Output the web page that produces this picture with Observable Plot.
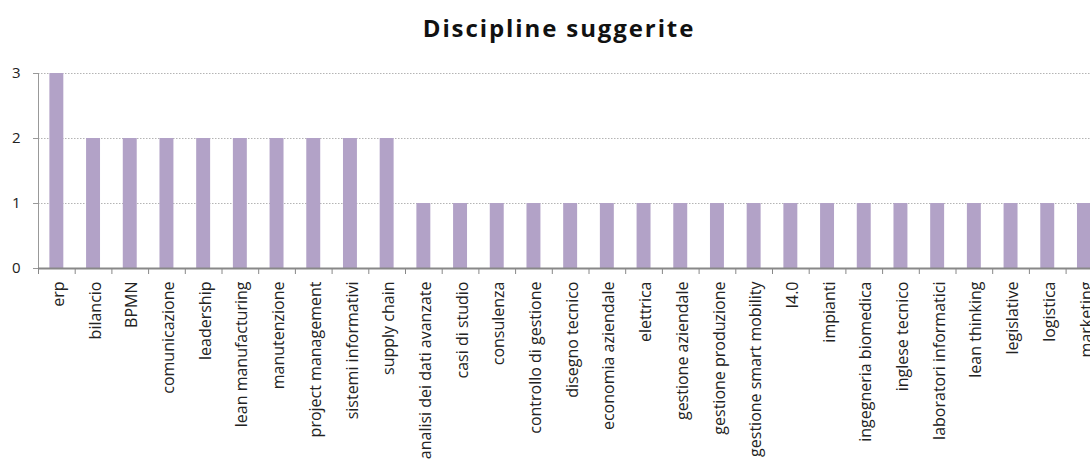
<!DOCTYPE html>
<html>
<head>
<meta charset="utf-8">
<script src="https://cdn.jsdelivr.net/npm/d3@7"></script>
<script src="https://cdn.jsdelivr.net/npm/@observablehq/plot@0.6"></script>
<style>
  body { margin: 0; background: #fff; overflow: hidden; }
  #title {
    width: 1090px; height: 50px; box-sizing: border-box;
    padding-left: 28px; padding-top: 13px;
    font: bold 24px "Open Sans", sans-serif; letter-spacing: 1.9px; color: #111;
    text-align: center; line-height: 30px;
  }
</style>
</head>
<body>
<div id="title">Discipline suggerite</div>
<div id="chart"></div>
<script>
// Suggested subjects and how many times each was mentioned
const categories = [
  "erp", "bilancio", "BPMN", "comunicazione", "leadership", "lean manufacturing",
  "manutenzione", "project management", "sistemi informativi", "supply chain",
  "analisi dei dati avanzate", "casi di studio", "consulenza", "controllo di gestione",
  "disegno tecnico", "economia aziendale", "elettrica", "gestione aziendale",
  "gestione produzione", "gestione smart mobility", "I4.0", "impianti",
  "ingegneria biomedica", "inglese tecnico", "laboratori informatici", "lean thinking",
  "legislative", "logistica", "marketing"
];
const counts = [3, 2, 2, 2, 2, 2, 2, 2, 2, 2, 1, 1, 1, 1, 1, 1, 1, 1, 1, 1, 1, 1, 1, 1, 1, 1, 1, 1, 1];
const yTicks = [0, 1, 2, 3];

const data = categories.map((c, i) => ({disciplina: c, n: counts[i]}));

// category slot width; the axis runs past the right edge of the page
const step = 36.7;
const left = 38;

const chart = Plot.plot({
  width: 1090,
  height: 411,
  marginTop: 23,
  marginBottom: 193,
  marginLeft: left,
  marginRight: 0,
  style: {fontFamily: "'Open Sans', sans-serif", fontSize: "16px", color: "#222", background: "#fff"},
  x: {domain: categories, range: [left, left + step * categories.length], paddingInner: 0.62, paddingOuter: 0.31, round: false},
  y: {domain: [0, 3], ticks: yTicks},
  marks: [
    Plot.gridY(yTicks.filter((d) => d > 0), {stroke: "#b4b4b4", strokeOpacity: 1, strokeDasharray: "1.5,1.5"}),
    Plot.barY(data, {x: "disciplina", y: "n", fill: "#b2a2c7"}),
    // tick marks between categories
    Plot.ruleX(categories, {x: (d) => d, y1: 0, y2: 0, dx: -step / 2, insetBottom: -6, stroke: "#888"}),
    // vertical axis line
    Plot.ruleX([categories[0]], {x: (d) => d, y1: 0, y2: 3, dx: -step / 2, stroke: "#999"}),
    Plot.ruleY([0], {stroke: "#888", strokeWidth: 2}),
    Plot.axisY({ticks: yTicks, tickFormat: "d", tickSize: 5, tickPadding: 13, fontSize: 15, label: null, stroke: "#999"}),
    Plot.axisX({tickRotate: -90, tickSize: 0, tickPadding: 13, dx: 2, label: null, fontSize: 16})
  ]
});
document.getElementById("chart").appendChild(chart);
</script>
</body>
</html>
